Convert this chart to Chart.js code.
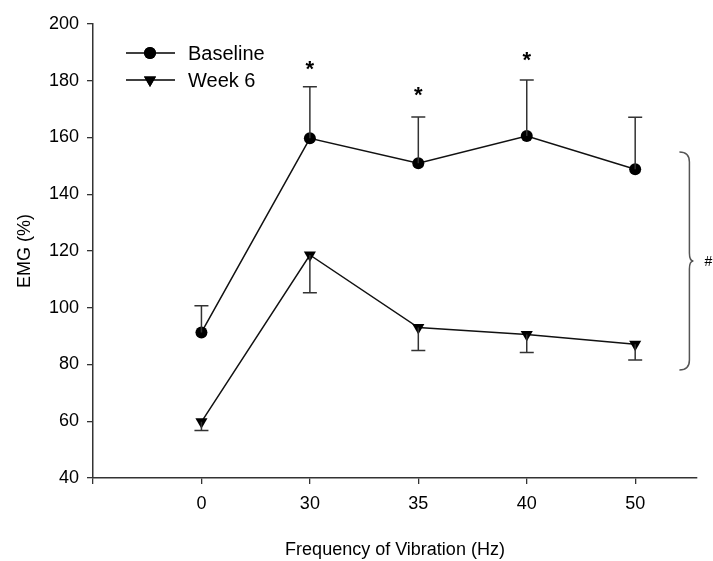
<!DOCTYPE html>
<html>
<head>
<meta charset="utf-8">
<script src="https://cdn.jsdelivr.net/npm/chart.js@4.4.0/dist/chart.umd.min.js"></script>
<style>
  html, body { margin: 0; padding: 0; background: #fff; }
  #wrap { width: 713px; height: 561px; }
</style>
</head>
<body>
<div id="wrap"><canvas id="emg-chart"></canvas></div>
<script>
var freqLabels = ["0", "30", "35", "40", "50"];
var baseline = [91.3, 159.7, 150.9, 160.5, 148.8];
var baselineErrTop = [100.7, 177.9, 167.2, 180.3, 167.1];
var week6 = [59.8, 118.6, 93.0, 90.6, 87.1];
var week6ErrBottom = [56.7, 105.3, 84.9, 84.2, 81.6];
var starAt = [null, 186, 176.7, 188.9, null];
var braceRange = [154.9, 78.1];
var yTicks = [40, 60, 80, 100, 120, 140, 160, 180, 200];

var FONT = "'Liberation Sans', Arial, sans-serif";

function pts(arr) {
    return arr.map(function (v, i) { return { x: i, y: v }; });
}

// error bars, stars, bracket and legend
var extras = {
    id: 'extras',
    afterDatasetsDraw: function (chart) {
        var ctx = chart.ctx, xs = chart.scales.x, ys = chart.scales.y;
        var area = chart.chartArea;
        ctx.save();
        ctx.strokeStyle = '#333';
        ctx.lineWidth = 1.5;
        function bar(i, from, to) {
            var x = xs.getPixelForValue(i);
            var y1 = ys.getPixelForValue(from), y2 = ys.getPixelForValue(to);
            ctx.beginPath();
            ctx.moveTo(x, y1); ctx.lineTo(x, y2);
            ctx.moveTo(x - 7, y2); ctx.lineTo(x + 7, y2);
            ctx.stroke();
        }
        for (var i = 0; i < freqLabels.length; i++) {
            bar(i, baseline[i], baselineErrTop[i]);
            bar(i, week6[i], week6ErrBottom[i]);
        }

        // significance stars
        ctx.fillStyle = '#000';
        ctx.font = 'bold 22px ' + FONT;
        ctx.textAlign = 'center';
        ctx.textBaseline = 'alphabetic';
        starAt.forEach(function (v, i) {
            if (v == null) return;
            ctx.fillText('*', xs.getPixelForValue(i), ys.getPixelForValue(v) + 12);
        });

        // curly bracket on the right
        var bx = xs.getPixelForValue(4.5);
        var top = ys.getPixelForValue(braceRange[0]);
        var bot = ys.getPixelForValue(braceRange[1]);
        var mid = (top + bot) / 2;
        ctx.strokeStyle = '#555';
        ctx.lineWidth = 1.5;
        ctx.beginPath();
        ctx.moveTo(bx - 10, top);
        ctx.quadraticCurveTo(bx, top, bx, top + 10);
        ctx.lineTo(bx, mid - 8);
        ctx.quadraticCurveTo(bx, mid, bx + 4, mid);
        ctx.quadraticCurveTo(bx, mid, bx, mid + 8);
        ctx.lineTo(bx, bot - 10);
        ctx.quadraticCurveTo(bx, bot, bx - 10, bot);
        ctx.stroke();
        ctx.font = '14px ' + FONT;
        ctx.textAlign = 'left';
        ctx.textBaseline = 'middle';
        ctx.fillText('#', bx + 15, mid + 1);

        // legend
        var lx = area.left + 33, ly = area.top + 29;
        var items = chart.data.datasets;
        ctx.font = '20px ' + FONT;
        items.forEach(function (ds, k) {
            var y = ly + k * 27;
            ctx.strokeStyle = '#000';
            ctx.lineWidth = 1.5;
            ctx.beginPath();
            ctx.moveTo(lx, y); ctx.lineTo(lx + 49, y);
            ctx.stroke();
            Chart.helpers.drawPoint(ctx, {
                pointStyle: ds.pointStyle, radius: ds.pointRadius,
                rotation: ds.pointRotation || 0, borderWidth: 0
            }, lx + 24, y);
            ctx.fillStyle = '#000';
            ctx.fill();
            ctx.fillText(ds.label, lx + 62, y + 1);
        });
        ctx.restore();
    }
};

new Chart(document.getElementById('emg-chart'), {
    type: 'line',
    data: {
        datasets: [{
            label: 'Baseline',
            data: pts(baseline),
            borderColor: '#111',
            borderWidth: 1.5,
            pointStyle: 'circle',
            pointRadius: 6,
            pointBackgroundColor: '#000',
            pointBorderWidth: 0
        }, {
            label: 'Week 6',
            data: pts(week6),
            borderColor: '#111',
            borderWidth: 1.5,
            pointStyle: 'triangle',
            pointRotation: 180,
            pointRadius: 7,
            pointBackgroundColor: '#000',
            pointBorderWidth: 0
        }]
    },
    options: {
        responsive: true,
        maintainAspectRatio: false,
        animation: false,
        layout: { padding: { top: 24, right: 16, left: 0, bottom: 0 } },
        plugins: { legend: { display: false }, tooltip: { enabled: false } },
        scales: {
            x: {
                type: 'linear',
                min: -1,
                max: 4.57,
                afterBuildTicks: function (s) {
                    s.ticks = [-1, 0, 1, 2, 3, 4].map(function (v) { return { value: v }; });
                },
                afterFit: function (s) { s.height = 83; },
                ticks: {
                    color: '#000',
                    font: { family: FONT, size: 18 },
                    padding: 9,
                    maxRotation: 0,
                    callback: function (v) { return v >= 0 ? freqLabels[v] : ''; }
                },
                grid: { drawOnChartArea: false, drawTicks: true, tickLength: 6, color: '#333', lineWidth: 1.3 },
                border: { display: true, color: '#333', width: 1.5 },
                title: {
                    display: true,
                    text: 'Frequency of Vibration (Hz)',
                    color: '#000',
                    font: { family: FONT, size: 18 },
                    padding: { top: 0, bottom: 0 }
                }
            },
            y: {
                min: 40,
                max: 200,
                afterBuildTicks: function (s) {
                    s.ticks = yTicks.map(function (v) { return { value: v }; });
                },
                afterFit: function (s) { s.width = 93; },
                ticks: {
                    color: '#000',
                    font: { family: FONT, size: 18 },
                    padding: 8
                },
                grid: { drawOnChartArea: false, drawTicks: true, tickLength: 6, color: '#333', lineWidth: 1.3 },
                border: { display: true, color: '#333', width: 1.5 },
                title: {
                    display: true,
                    text: 'EMG (%)',
                    color: '#000',
                    font: { family: FONT, size: 18 },
                    padding: { top: 14, bottom: 0 }
                }
            }
        }
    },
    plugins: [extras]
});
</script>
</body>
</html>
